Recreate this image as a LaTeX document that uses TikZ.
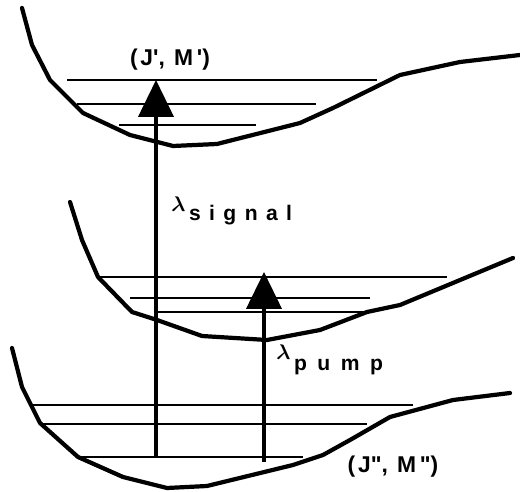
\documentclass[tikz,border=0pt]{standalone}
\usepackage{fontspec}
\usepackage{amsmath}
\setmainfont{Liberation Sans}
\usetikzlibrary{arrows.meta}
\newfontfamily\stateletters[LetterSpace=12]{Liberation Sans}
\newfontfamily\wideletters[LetterSpace=40]{Liberation Sans}
\newfontfamily\widerletters[LetterSpace=50]{Liberation Sans}

\begin{document}
\begin{tikzpicture}[
    x=0.02cm, y=-0.02cm,
    well/.style={line width=2.4pt, line join=round, line cap=round},
    level/.style={line width=1.1pt},
    arrow/.style={-{Triangle[length=21pt, width=20pt]}, line width=1.9pt},
    lbl/.style={font=\bfseries\fontsize{12.5}{14}\selectfont, inner sep=0pt},
    statelbl/.style={font=\stateletters\bfseries\fontsize{13}{15}\selectfont, inner sep=0pt}
]
\useasboundingbox (0,0) rectangle (520,492);

% upper state
\draw[well] (22,8) -- (32,45) -- (50,80) -- (83,113) -- (130,135) -- (173,146) -- (217,144) -- (300,123) -- (333,108) -- (400,75) -- (460,62) -- (520,55);
\draw[level] (67,80) -- (377,80);
\draw[level] (77,104) -- (316,104);
\draw[level] (119,125) -- (256,125);

% intermediate state
\draw[well] (70,202) -- (82,240) -- (98,277) -- (132,312) -- (157,320) -- (202,336) -- (267,340) -- (320,330) -- (367,312) -- (400,305) -- (513,258);
\draw[level] (100,277) -- (447,277);
\draw[level] (130,298) -- (370,298);
\draw[level] (157,312) -- (367,312);

% ground state
\draw[well] (12,348) -- (22,387) -- (40,423) -- (78,457) -- (123,477) -- (167,488) -- (207,486) -- (293,465) -- (323,455) -- (350,440) -- (390,417) -- (453,400) -- (510,393);
\draw[level] (33,405) -- (413,405);
\draw[level] (43,424) -- (367,424);
\draw[level] (80,457) -- (303,457);

% transitions
\coordinate (sigfrom) at (156,457);
\coordinate (sigto) at (156,80);
\coordinate (pumpfrom) at (264,462);
\coordinate (pumpto) at (264,272);
\draw[arrow] (sigfrom) -- (sigto);
\draw[arrow] (pumpfrom) -- (pumpto);

% labels
\node[statelbl] (upper) at (170,60) {(J\textquotesingle, M\,\textquotesingle)};
\node[statelbl] (lower) at (393,467) {(J\textquotedbl, M\,\textquotedbl)};
\node[lbl, anchor=west] (siglabel) at (171,211) {\large$\boldsymbol{\lambda}$\,\raisebox{-5.5pt}{\wideletters signal}};
\node[lbl, anchor=west] (pumplabel) at (276,360) {\large$\boldsymbol{\lambda}$\,\raisebox{-6.5pt}{\widerletters pump}};
\end{tikzpicture}
\end{document}
